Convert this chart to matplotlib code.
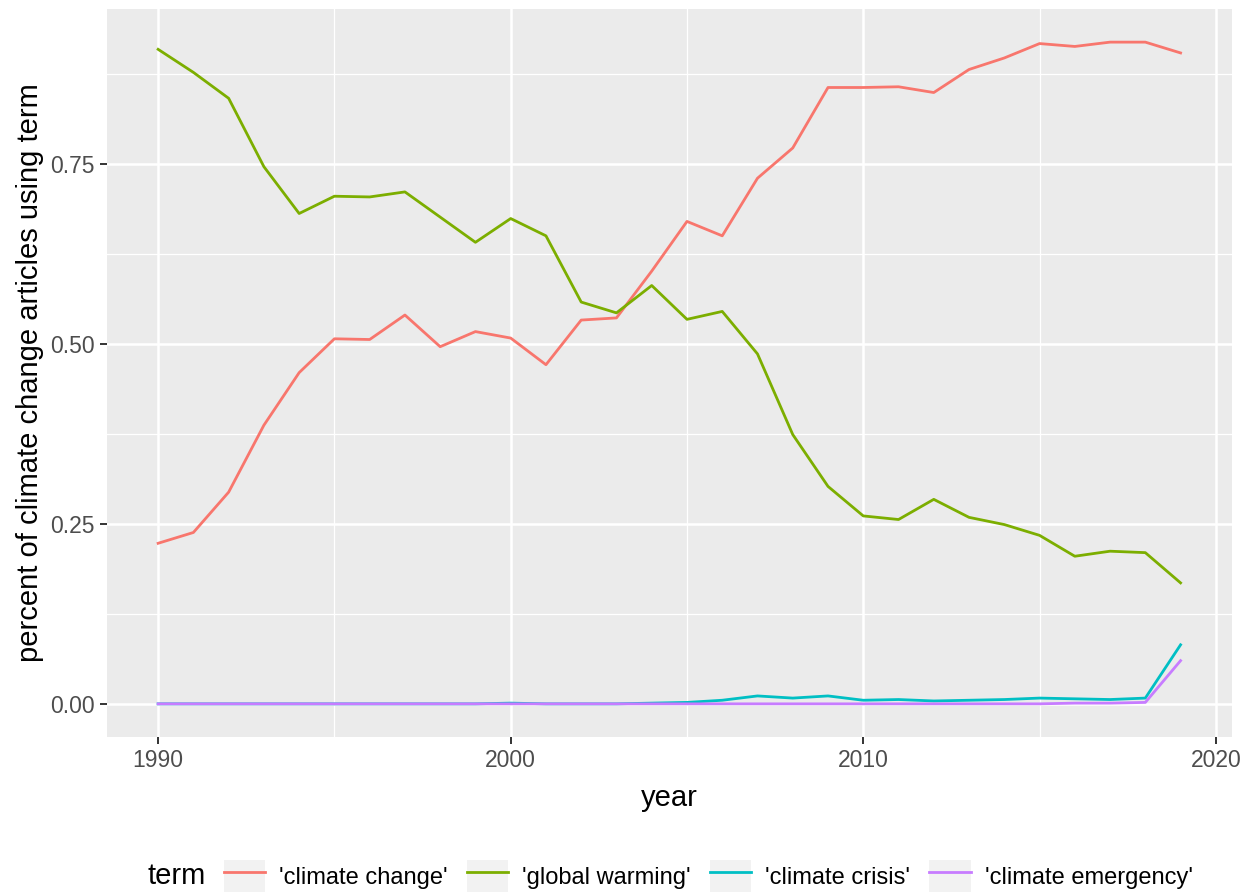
import matplotlib.pyplot as plt
import numpy as np
from matplotlib.patches import Patch
from matplotlib.legend_handler import HandlerTuple

plt.rcParams['font.family'] = ['Liberation Sans', 'DejaVu Sans']

years = np.arange(1990, 2020)

climate_change = [0.223, 0.238, 0.294, 0.387, 0.460, 0.507, 0.506, 0.540, 0.496, 0.517,
                  0.508, 0.471, 0.533, 0.536, 0.601, 0.670, 0.650, 0.730, 0.772, 0.856,
                  0.856, 0.857, 0.849, 0.881, 0.897, 0.917, 0.913, 0.919, 0.919, 0.904]
global_warming = [0.909, 0.877, 0.841, 0.746, 0.681, 0.705, 0.704, 0.711, 0.676, 0.641,
                  0.674, 0.650, 0.558, 0.543, 0.581, 0.534, 0.545, 0.486, 0.374, 0.302,
                  0.261, 0.256, 0.284, 0.259, 0.249, 0.234, 0.205, 0.212, 0.210, 0.168]
climate_crisis = [0.000, 0.000, 0.000, 0.000, 0.000, 0.000, 0.000, 0.000, 0.000, 0.000,
                  0.001, 0.000, 0.000, 0.000, 0.001, 0.002, 0.005, 0.011, 0.008, 0.011,
                  0.005, 0.006, 0.004, 0.005, 0.006, 0.008, 0.007, 0.006, 0.008, 0.082]
climate_emergency = [0.000, 0.000, 0.000, 0.000, 0.000, 0.000, 0.000, 0.000, 0.000, 0.000,
                     0.000, 0.000, 0.000, 0.000, 0.000, 0.000, 0.000, 0.000, 0.000, 0.000,
                     0.000, 0.000, 0.000, 0.000, 0.000, 0.000, 0.001, 0.001, 0.002, 0.060]

labels = ["'climate change'", "'global warming'", "'climate crisis'", "'climate emergency'"]
colors = ['#F8766D', '#7CAE00', '#00BFC4', '#C77CFF']

fig = plt.figure(figsize=(12.53, 8.92), dpi=100)
ax = fig.add_axes([0.0854, 0.1738, 0.8976, 0.8161])
ax.set_facecolor('#EBEBEB')

series = [climate_change, global_warming, climate_crisis, climate_emergency]
handles = []
for vals, lab, col in zip(series, labels, colors):
    h, = ax.plot(years, vals, color=col, lw=2.0, label=lab)
    handles.append((Patch(facecolor='#F2F2F2', edgecolor='none'), h))

ax.set_xlim(1988.55, 2020.45)
ax.set_ylim(-0.046, 0.965)
ax.set_xticks([1990, 2000, 2010, 2020])
ax.set_xticks([1995, 2005, 2015], minor=True)
ax.set_yticks([0.0, 0.25, 0.5, 0.75])
ax.set_yticks([0.125, 0.375, 0.625, 0.875], minor=True)
ax.set_yticklabels(['0.00', '0.25', '0.50', '0.75'])

ax.grid(which='major', color='white', lw=1.8)
ax.grid(which='minor', color='white', lw=0.9)
ax.set_axisbelow(True)
for s in ax.spines.values():
    s.set_visible(False)
ax.tick_params(which='major', length=5, width=1.4, color='#333333',
               labelsize=16.5, labelcolor='#4D4D4D', pad=4)
ax.tick_params(which='minor', length=0)

ax.set_xlabel('year', fontsize=21, labelpad=8)
ax.set_ylabel('percent of climate change articles using term', fontsize=21, labelpad=4)

fig.text(148 / 1253, 0.018, 'term', fontsize=21, va='center', ha='left')
fig.legend(handles=handles, labels=labels,
           handler_map={tuple: HandlerTuple(ndivide=1, pad=0)},
           loc='center left', bbox_to_anchor=(224 / 1253, 0.018),
           ncol=4, frameon=False, fontsize=17, handlelength=1.75, handleheight=1.75,
           columnspacing=0.8, handletextpad=0.6, borderpad=0, borderaxespad=0)

fig.savefig('out.png', dpi=100)
